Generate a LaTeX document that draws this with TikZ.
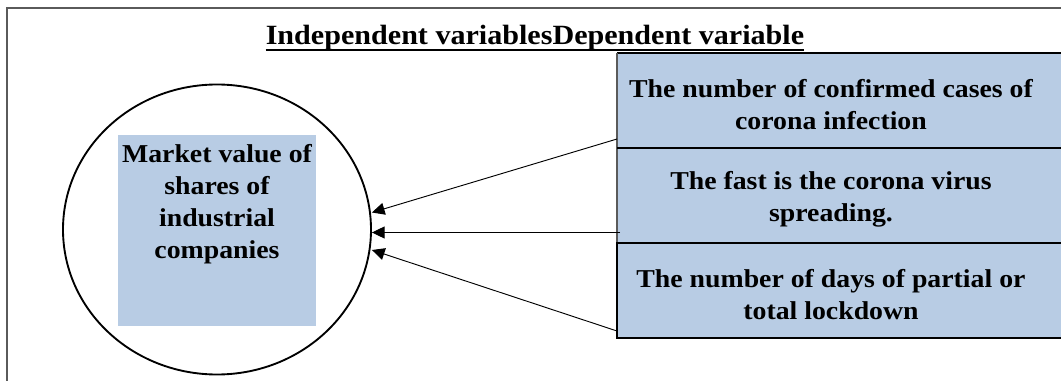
\documentclass[tikz,border=0pt]{standalone}
\usepackage{fontspec}
\setmainfont[FakeStretch=1.08]{Liberation Serif}
\usetikzlibrary{arrows.meta, positioning, calc, shapes.geometric}
\definecolor{cellblue}{HTML}{B8CCE4}
\definecolor{framegray}{HTML}{5A5A5A}
\tikzset{
  varbox/.style={rectangle, fill=cellblue, inner sep=0pt, outer sep=0pt,
                 minimum width=321pt, minimum height=71.25pt, align=center,
                 font=\fontsize{19.3pt}{24pt}\selectfont\bfseries},
  cellline/.style={line width=1.5pt, black},
  head/.style={inner sep=0pt, font=\fontsize{20.9pt}{25pt}\selectfont\bfseries},
  arr/.style={-{Triangle[length=9.5pt, width=9pt]}, line width=0.7pt, #1},
  arr/.default=black,
}

\begin{document}
\begin{tikzpicture}[x=0.75pt, y=-0.75pt]
  \useasboundingbox (0,0) rectangle (1061,381);
  \coordinate (edge) at (1080,0);

  % outer frame
  \draw[framegray, line width=1.1pt] (7,400) -- (7,8) -- (edge |- 0,8);

  % heading
  \node[head, anchor=base] (title) at (535,45) {Independent variablesDependent variable};
  \draw[line width=2.2pt] ([yshift=-3.75pt]title.base west) -- ([yshift=-3.75pt]title.base east);

  % dependent variable
  \node[ellipse, draw, line width=1.4pt, minimum width=231pt, minimum height=217.5pt,
        inner sep=0pt] (dep) at (217,229.5) {};
  \fill[cellblue] (118,135) rectangle (316,326);
  \node[varbox, fill=none, minimum width=0pt, minimum height=0pt, anchor=north]
    (mv) at (217,144) {Market value of\\shares of\\industrial\\companies};

  % independent variables
  \node[varbox, anchor=north west] (cases) at (617,53)
    {\rule{0pt}{19.3pt}The number of confirmed cases of\\corona infection};
  \node[varbox, below=0pt of cases] (speed)
    {\rule{0pt}{19.3pt}The fast is the corona virus\\spreading.};
  \node[varbox, below=0pt of speed] (lock)
    {\rule{0pt}{19.3pt}The number of days of partial or\\total lockdown};
  \fill[cellblue] (cases.north east) rectangle (edge |- lock.south);

  \draw[cellline] (edge |- cases.north) -- (cases.north west);
  \draw[framegray, line width=0.9pt] (cases.north west) -- (speed.south west);
  \draw[cellline] (cases.south west) -- (edge |- cases.south);
  \draw[cellline] (edge |- speed.south) -- (lock.north west) -- (lock.south west) -- (edge |- lock.south);

  \draw[arr] ($(cases.south west)+(0,-9)$) -- ($(dep.east)+(0,-17)$);
  \draw[arr] ($(speed.south west)+(3,-10.5)$) -- ($(dep.east)+(0,3)$);
  \draw[arr] ($(lock.south west)+(0,-7)$) -- ($(dep.east)+(0,20.5)$);
\end{tikzpicture}
\end{document}
